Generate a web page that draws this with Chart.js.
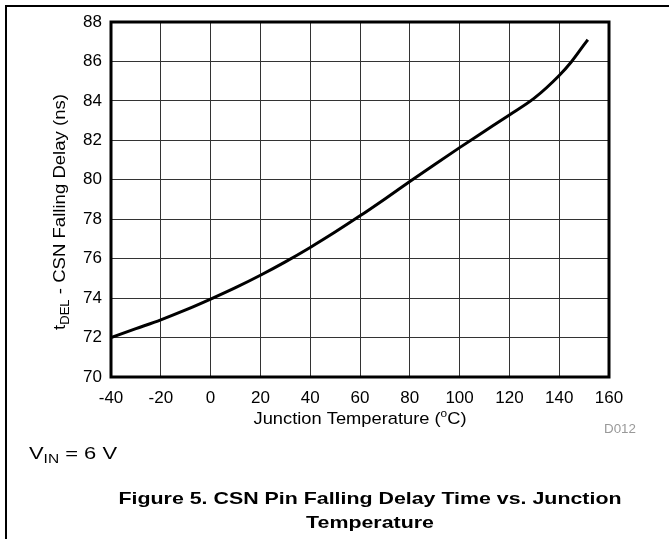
<!DOCTYPE html>
<html>
<head>
<meta charset="utf-8">
<script src="https://cdn.jsdelivr.net/npm/chart.js@4.4.1/dist/chart.umd.min.js"></script>
<style>
  html, body { margin: 0; padding: 0; background: #fff; }
  canvas { display: block; }
</style>
</head>
<body>
<canvas id="delay-chart" width="669" height="539"></canvas>
<script>
// valores
const temps = [-40, -30, -20, -10, 0, 10, 20, 30, 40, 50, 60, 70, 80, 90, 100, 110, 120, 130, 140, 145, 150, 151.5];
const delays = [72.0, 72.45, 72.9, 73.4, 73.95, 74.53, 75.16, 75.84, 76.57, 77.35, 78.17, 79.03, 79.91, 80.78, 81.63, 82.46, 83.29, 84.14, 85.29, 86.0, 86.85, 87.1];
const xTicks = [-40, -20, 0, 20, 40, 60, 80, 100, 120, 140, 160];
const yTicks = [70, 72, 74, 76, 78, 80, 82, 84, 86, 88];

const FONT = '"Liberation Sans", Arial, sans-serif';

// desenha texto com partes (subscrito / sobrescrito), esticado para caber na largura
function drawRich(ctx, parts, x, y, align, targetW) {
    let w = 0;
    parts.forEach(p => {
        ctx.font = (p.bold ? 'bold ' : '') + p.size + 'px ' + FONT;
        p.w = ctx.measureText(p.text).width;
        w += p.w;
    });
    const sx = targetW ? targetW / w : 1;
    const left = align === 'center' ? x - (w * sx) / 2 : x;
    ctx.save();
    ctx.translate(left, y);
    ctx.scale(sx, 1);
    ctx.textBaseline = 'alphabetic';
    ctx.textAlign = 'left';
    let ox = 0;
    parts.forEach(p => {
        ctx.font = (p.bold ? 'bold ' : '') + p.size + 'px ' + FONT;
        ctx.fillStyle = p.color || '#000';
        ctx.fillText(p.text, ox, p.dy || 0);
        ox += p.w;
    });
    ctx.restore();
    return sx;
}

const pageDecor = {
    id: 'pageDecor',
    beforeDraw(chart) {
        const { ctx } = chart;
        ctx.save();
        ctx.fillStyle = '#fff';
        ctx.fillRect(0, 0, chart.width, chart.height);
        ctx.strokeStyle = '#000';
        ctx.lineWidth = 2;
        ctx.beginPath();
        ctx.moveTo(6, chart.height);
        ctx.lineTo(6, 6);
        ctx.lineTo(chart.width, 6);
        ctx.stroke();
        ctx.restore();
    },
    afterDatasetsDraw(chart) {
        const { ctx, chartArea: a } = chart;
        ctx.save();
        ctx.strokeStyle = '#000';
        ctx.lineWidth = 3;
        ctx.strokeRect(a.left, a.top, a.right - a.left, a.bottom - a.top);
        ctx.restore();
    },
    afterDraw(chart) {
        const { ctx } = chart;
        // título do eixo Y (rotacionado)
        ctx.save();
        ctx.translate(65, 212);
        ctx.rotate(-Math.PI / 2);
        drawRich(ctx, [
            { text: 't', size: 17 },
            { text: 'DEL', size: 12, dy: 4 },
            { text: ' - CSN Falling Delay (ns)', size: 17 }
        ], 0, 0, 'center', 236);
        ctx.restore();

        // título do eixo X
        drawRich(ctx, [
            { text: 'Junction Temperature (', size: 17 },
            { text: 'o', size: 11, dy: -7 },
            { text: 'C)', size: 17 }
        ], 360, 424, 'center', 213);

        drawRich(ctx, [{ text: 'D012', size: 12, color: '#999' }], 604, 433, 'left', 32);

        drawRich(ctx, [
            { text: 'V', size: 17 },
            { text: 'IN', size: 12, dy: 4 },
            { text: ' = 6 V', size: 17 }
        ], 29, 459, 'left', 88);

        const sx = drawRich(ctx, [{ text: 'Figure 5. CSN Pin Falling Delay Time vs. Junction', size: 17, bold: true }], 370, 504, 'center', 503);
        ctx.save();
        ctx.font = 'bold 17px ' + FONT;
        const w2 = ctx.measureText('Temperature').width * sx;
        ctx.restore();
        drawRich(ctx, [{ text: 'Temperature', size: 17, bold: true }], 370, 528, 'center', w2);
    }
};

const canvas = document.getElementById('delay-chart');
new Chart(canvas, {
    type: 'line',
    data: {
        datasets: [{
            data: temps.map((t, i) => ({ x: t, y: delays[i] })),
            borderColor: '#000',
            borderWidth: 3,
            pointRadius: 0,
            fill: false,
            cubicInterpolationMode: 'monotone'
        }]
    },
    options: {
        responsive: false,
        animation: false,
        devicePixelRatio: 1,
        layout: { padding: { left: 0, right: 60, top: 22, bottom: 0 } },
        plugins: { legend: { display: false }, tooltip: { enabled: false } },
        scales: {
            x: {
                type: 'linear',
                min: -40, max: 160,
                afterBuildTicks(scale) { scale.ticks = xTicks.map(v => ({ value: v })); },
                afterFit(scale) { scale.height = 162; },
                grid: { color: '#333', lineWidth: 1, drawTicks: false },
                border: { display: false },
                ticks: { color: '#000', padding: 11, maxRotation: 0, font: { family: FONT, size: 17 } }
            },
            y: {
                min: 70, max: 88,
                afterBuildTicks(scale) { scale.ticks = yTicks.map(v => ({ value: v })); },
                afterFit(scale) { scale.width = 111; },
                grid: { color: '#333', lineWidth: 1, drawTicks: false },
                border: { display: false },
                ticks: { color: '#000', padding: 9, font: { family: FONT, size: 17 } }
            }
        }
    },
    plugins: [pageDecor]
});
</script>
</body>
</html>
